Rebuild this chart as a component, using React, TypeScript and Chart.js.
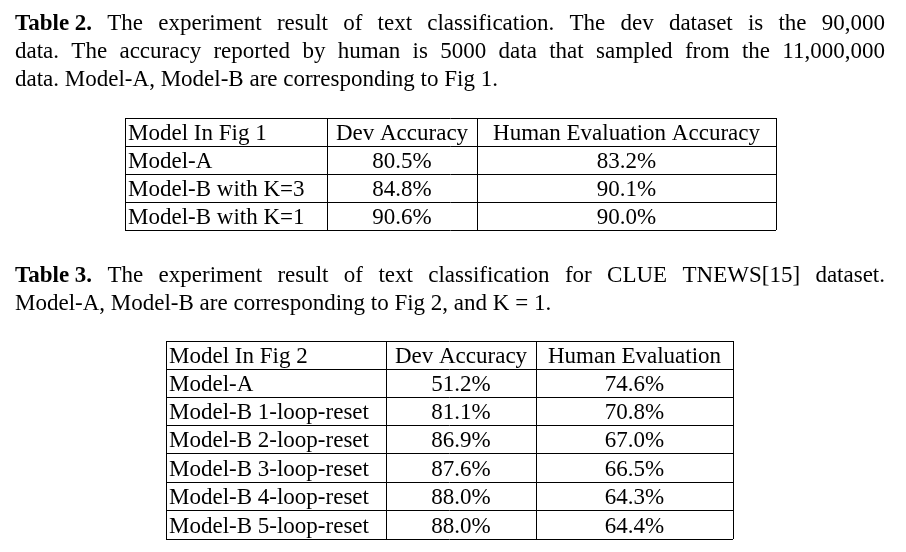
import { useEffect, useRef } from 'react';
import { Chart, registerables } from 'chart.js';
Chart.register(...registerables);

// caption lines: [boldPrefix, text, justified]
const caption1: [string, string, boolean][] = [
  ['Table 2.', 'The experiment result of text classification. The dev dataset is the 90,000', true],
  ['', 'data. The accuracy reported by human is 5000 data that sampled from the 11,000,000', true],
  ['', 'data. Model-A, Model-B are corresponding to Fig 1.', false],
];
const caption2: [string, string, boolean][] = [
  ['Table 3.', 'The experiment result of text classification for CLUE TNEWS[15] dataset.', true],
  ['', 'Model-A, Model-B are corresponding to Fig 2, and K = 1.', false],
];

const table1Header = ['Model In Fig 1', 'Dev Accuracy', 'Human Evaluation Accuracy'];
const table1Models = ['Model-A', 'Model-B with K=3', 'Model-B with K=1'];
const table1Dev = ['80.5%', '84.8%', '90.6%'];
const table1Human = ['83.2%', '90.1%', '90.0%'];

const table2Header = ['Model In Fig 2', 'Dev Accuracy', 'Human Evaluation'];
const table2Models = ['Model-A', 'Model-B 1-loop-reset', 'Model-B 2-loop-reset', 'Model-B 3-loop-reset', 'Model-B 4-loop-reset', 'Model-B 5-loop-reset'];
const table2Dev = ['51.2%', '81.1%', '86.9%', '87.6%', '88.0%', '88.0%'];
const table2Human = ['74.6%', '70.8%', '67.0%', '66.5%', '64.3%', '64.4%'];

const FONT = '"Liberation Serif", serif';
const SIZE = 23;

type TableSpec = { cols: number[]; rows: number[]; cells: string[][] };

const tables: TableSpec[] = [
  {
    cols: [125, 327, 477, 776],
    rows: [118, 146, 174, 202, 230],
    cells: [table1Header, ...table1Models.map((m, i) => [m, table1Dev[i], table1Human[i]])],
  },
  {
    cols: [166, 386, 536, 733],
    rows: [341, 369, 397, 425, 453, 482, 510, 539],
    cells: [table2Header, ...table2Models.map((m, i) => [m, table2Dev[i], table2Human[i]])],
  },
];

const captions: { lines: [string, string, boolean][]; y0: number }[] = [
  { lines: caption1, y0: 30 },
  { lines: caption2, y0: 282 },
];

const paperPlugin = {
  id: 'paper',
  afterDraw(chart: Chart) {
    const ctx = chart.ctx;
    const xs = chart.scales.x;
    const ys = chart.scales.y;
    const px = (v: number) => xs.getPixelForValue(v);
    const py = (v: number) => ys.getPixelForValue(v);
    ctx.save();
    ctx.fillStyle = '#000';
    ctx.strokeStyle = '#000';
    ctx.textBaseline = 'alphabetic';
    const left = 15, right = 885;

    captions.forEach(({ lines, y0 }) => {
      lines.forEach(([bold, text, just], li) => {
        const y = py(y0 + li * 28);
        let x = px(left);
        const words: { w: string; bold: boolean }[] = [];
        if (bold) words.push({ w: bold, bold: true });
        text.split(' ').forEach(w => words.push({ w, bold: false }));
        const widths = words.map(o => {
          ctx.font = `${o.bold ? 'bold ' : ''}${SIZE}px ${FONT}`;
          return ctx.measureText(o.w).width;
        });
        ctx.font = `${SIZE}px ${FONT}`;
        const space = ctx.measureText(' ').width;
        const total = widths.reduce((a, b) => a + b, 0);
        let gap = just ? (px(right) - px(left) - total) / (words.length - 1) : space;
        let sx = 1;
        if (gap < space * 0.6) {
          gap = space * 0.6;
          sx = (px(right) - px(left) - gap * (words.length - 1)) / total;
        }
        words.forEach((o, i) => {
          ctx.font = `${o.bold ? 'bold ' : ''}${SIZE}px ${FONT}`;
          ctx.save();
          ctx.translate(x, y);
          ctx.scale(sx, 1);
          ctx.fillText(o.w, 0, 0);
          ctx.restore();
          x += widths[i] * sx + gap;
        });
      });
    });

    ctx.lineWidth = 1;
    ctx.font = `${SIZE}px ${FONT}`;
    tables.forEach(t => {
      const x0 = px(t.cols[0]), x1 = px(t.cols[t.cols.length - 1]);
      const yTop = py(t.rows[0]), yBot = py(t.rows[t.rows.length - 1]);
      t.rows.forEach(r => {
        ctx.beginPath();
        ctx.moveTo(x0, py(r) + 0.5);
        ctx.lineTo(x1, py(r) + 0.5);
        ctx.stroke();
      });
      t.cols.forEach(c => {
        ctx.beginPath();
        ctx.moveTo(px(c) + 0.5, yTop);
        ctx.lineTo(px(c) + 0.5, yBot);
        ctx.stroke();
      });
      t.cells.forEach((row, ri) => {
        const yb = py(t.rows[ri + 1]) - 6;
        row.forEach((cell, ci) => {
          if (ci === 0) {
            ctx.textAlign = 'left';
            ctx.fillText(cell, px(t.cols[0]) + 3, yb);
          } else {
            ctx.textAlign = 'center';
            ctx.fillText(cell, (px(t.cols[ci]) + px(t.cols[ci + 1])) / 2, yb);
          }
        });
      });
    });
    ctx.restore();
  },
};

export default function App() {
  const canvasRef = useRef<HTMLCanvasElement>(null);
  const chartRef = useRef<Chart | null>(null);

  useEffect(() => {
    document.body.style.margin = '0';
    document.body.style.background = '#fff';
    if (!canvasRef.current) return;
    if (chartRef.current) chartRef.current.destroy();
    chartRef.current = new Chart(canvasRef.current, {
      type: 'scatter',
      data: { datasets: [{ data: [] }] },
      options: {
        animation: false,
        responsive: false,
        layout: { padding: 0 },
        plugins: { legend: { display: false }, tooltip: { enabled: false } },
        scales: {
          x: { type: 'linear', min: 0, max: 906, display: false },
          y: { type: 'linear', min: 0, max: 552, reverse: true, display: false },
        },
      },
      plugins: [paperPlugin],
    });
    return () => { chartRef.current?.destroy(); };
  }, []);

  return (
    <div style={{ width: 906, height: 552, background: '#fff' }}>
      <canvas ref={canvasRef} width={906} height={552} role="img" aria-label="Experiment result tables" />
    </div>
  );
}
